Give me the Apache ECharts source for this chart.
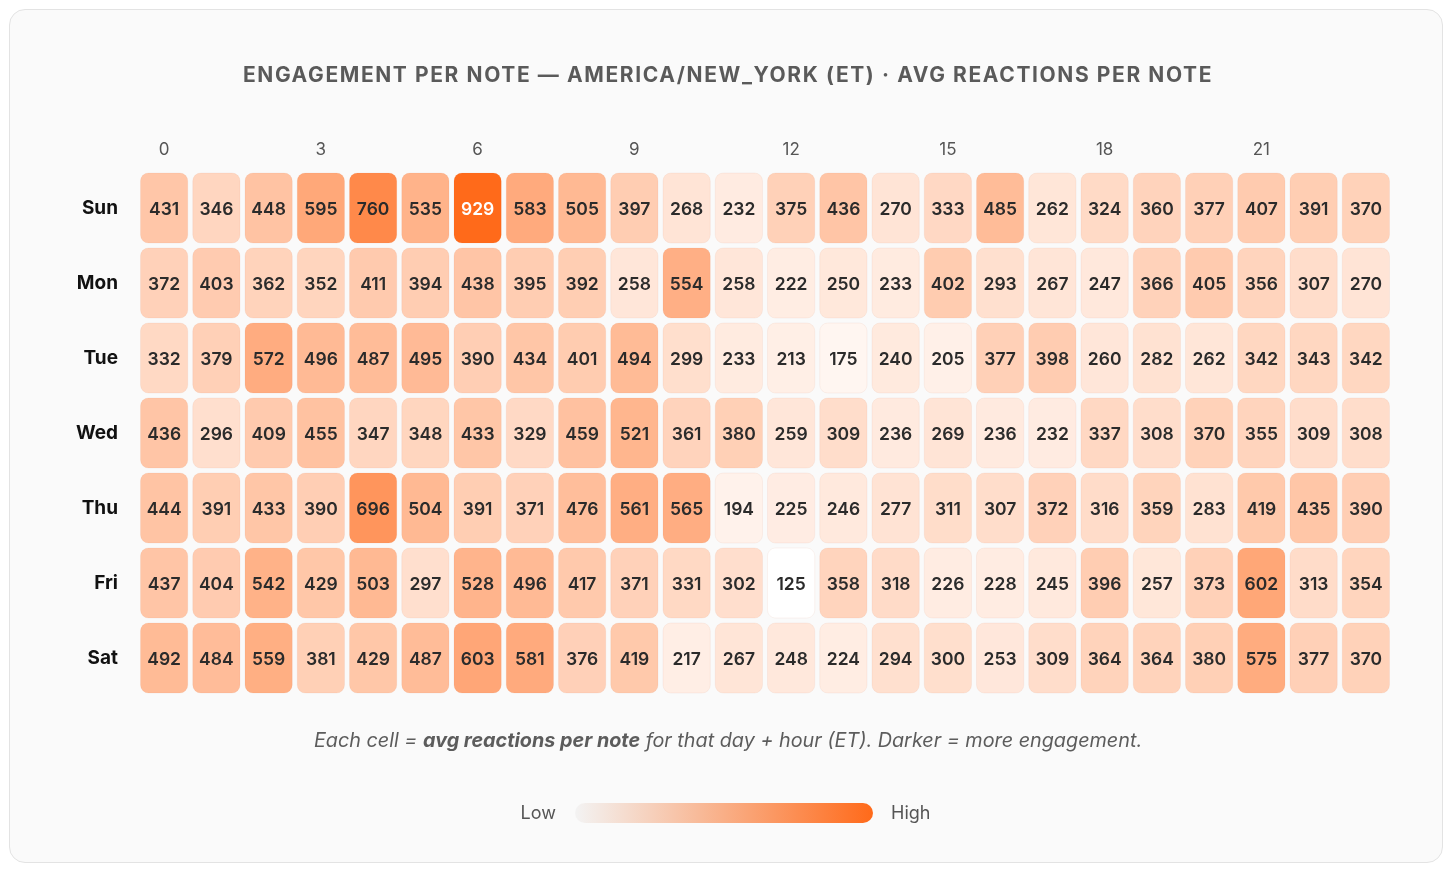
<!DOCTYPE html>
<html>
<head>
<meta charset="utf-8">
<script src="https://cdn.jsdelivr.net/npm/echarts@6/dist/echarts.min.js"></script>
<style>
    html, body { margin: 0; padding: 0; background: #ffffff; }
    #card {
        position: absolute; left: 9px; top: 9px; width: 1432px; height: 852px;
        background: #fafafa; border: 1px solid #e3e3e3; border-radius: 16px;
    }
    #chart { position: absolute; left: 0; top: 0; width: 1456px; height: 879px; }
    #title {
        position: absolute; left: 0; top: 62px; width: 1456px; text-align: center;
        font-family: Inter, "Noto Sans", sans-serif; font-size: 21px; font-weight: 700;
        letter-spacing: 1.6px; color: #5a5a5a; line-height: 26px; z-index: 2;
    }
</style>
</head>
<body>
<div id="card"></div>
<div id="chart"></div>
<div id="title">ENGAGEMENT PER NOTE — AMERICA/NEW_YORK (ET) · AVG REACTIONS PER NOTE</div>
<script>
// 横轴：小时
const hours = ['0', '1', '2', '3', '4', '5', '6', '7', '8', '9', '10', '11',
    '12', '13', '14', '15', '16', '17', '18', '19', '20', '21', '22', '23'];
// 纵轴：星期
const days = ['Sun', 'Mon', 'Tue', 'Wed', 'Thu', 'Fri', 'Sat'];

// 每天每小时的平均反应数
const sunValues = [431, 346, 448, 595, 760, 535, 929, 583, 505, 397, 268, 232, 375, 436, 270, 333, 485, 262, 324, 360, 377, 407, 391, 370];
const monValues = [372, 403, 362, 352, 411, 394, 438, 395, 392, 258, 554, 258, 222, 250, 233, 402, 293, 267, 247, 366, 405, 356, 307, 270];
const tueValues = [332, 379, 572, 496, 487, 495, 390, 434, 401, 494, 299, 233, 213, 175, 240, 205, 377, 398, 260, 282, 262, 342, 343, 342];
const wedValues = [436, 296, 409, 455, 347, 348, 433, 329, 459, 521, 361, 380, 259, 309, 236, 269, 236, 232, 337, 308, 370, 355, 309, 308];
const thuValues = [444, 391, 433, 390, 696, 504, 391, 371, 476, 561, 565, 194, 225, 246, 277, 311, 307, 372, 316, 359, 283, 419, 435, 390];
const friValues = [437, 404, 542, 429, 503, 297, 528, 496, 417, 371, 331, 302, 125, 358, 318, 226, 228, 245, 396, 257, 373, 602, 313, 354];
const satValues = [492, 484, 559, 381, 429, 487, 603, 581, 376, 419, 217, 267, 248, 224, 294, 300, 253, 309, 364, 364, 380, 575, 377, 370];

const rows = [sunValues, monValues, tueValues, wedValues, thuValues, friValues, satValues];

const lowColor = '#ffffff';
const highColor = '#ff6a1a';

//拼成 [x, y, value]
let data = [];
rows.forEach((row, y) => {
    row.forEach((v, x) => {
        data.push([x, y, v]);
    });
});

let allValues = data.map(d => d[2]);
let minValue = Math.min(...allValues);
let maxValue = Math.max(...allValues);

let chart = echarts.init(document.getElementById('chart'));

const font = 'Inter, "Noto Sans", sans-serif';

let option = {
    backgroundColor: 'transparent',
    textStyle: { fontFamily: font },
    grid: {
        left: 138,
        right: 64,
        top: 170.5,
        height: 525
    },
    xAxis: {
        type: 'category',
        position: 'top',
        data: hours,
        axisLine: { show: false },
        axisTick: { show: false },
        splitLine: { show: false },
        axisLabel: {
            interval: 2,
            margin: 12,
            fontSize: 17,
            color: '#555',
            fontFamily: font
        }
    },
    yAxis: {
        type: 'category',
        inverse: true,
        data: days,
        axisLine: { show: false },
        axisTick: { show: false },
        splitLine: { show: false },
        axisLabel: {
            margin: 20,
            fontSize: 19,
            fontWeight: 'bold',
            color: '#111',
            fontFamily: font,
            lineHeight: 22,
            padding: [3, 0, 0, 0]
        }
    },
    visualMap: {
        show: false,
        type: 'continuous',
        min: minValue,
        max: maxValue,
        dimension: 2,
        inRange: { color: [lowColor, highColor] }
    },
    series: [{
        type: 'custom',
        data: data,
        encode: { x: 0, y: 1 },
        renderItem: function (params, api) {
            let center = api.coord([api.value(0), api.value(1)]);
            let size = api.size([1, 1]);
            let w = size[0] - 5;
            let h = size[1] - 5;
            let v = api.value(2);
            let t = (v - minValue) / (maxValue - minValue);
            return {
                type: 'rect',
                shape: {
                    x: center[0] - w / 2,
                    y: center[1] - h / 2,
                    width: w,
                    height: h,
                    r: 8
                },
                style: {
                    fill: api.visual('color'),
                    stroke: 'rgba(200,120,80,0.08)',
                    lineWidth: 1
                },
                textContent: {
                    style: {
                        text: String(v),
                        fill: t > 0.85 ? '#ffffff' : '#2b2b2b',
                        fontSize: 17.5,
                        fontWeight: 600,
                        fontFamily: font
                    }
                },
                textConfig: {
                    position: 'inside',
                    offset: [0, 2]
                }
            };
        }
    }],
    graphic: [
        {
            type: 'text',
            left: 'center',
            top: 731,
            style: {
                rich: {
                    n: { fontStyle: 'italic', fontSize: 19.8, fill: '#5c5c5c', fontFamily: font },
                    b: { fontStyle: 'italic', fontWeight: 'bold', fontSize: 19.8, fill: '#5c5c5c', fontFamily: font }
                },
                text: '{n|Each cell = }{b|avg reactions per note}{n| for that day + hour (ET). Darker = more engagement.}'
            }
        },
        {
            type: 'text',
            x: 556,
            y: 814,
            style: {
                text: 'Low',
                fontSize: 18,
                fill: '#555',
                fontFamily: font,
                textAlign: 'right',
                textVerticalAlign: 'middle'
            }
        },
        {
            type: 'rect',
            shape: { x: 575, y: 803, width: 298, height: 20, r: 10 },
            style: {
                fill: new echarts.graphic.LinearGradient(0, 0, 1, 0, [
                    { offset: 0, color: '#f3f3f3' },
                    { offset: 1, color: highColor }
                ])
            }
        },
        {
            type: 'text',
            x: 891,
            y: 814,
            style: {
                text: 'High',
                fontSize: 18,
                fill: '#555',
                fontFamily: font,
                textAlign: 'left',
                textVerticalAlign: 'middle'
            }
        }
    ]
};

chart.setOption(option);
</script>
</body>
</html>
